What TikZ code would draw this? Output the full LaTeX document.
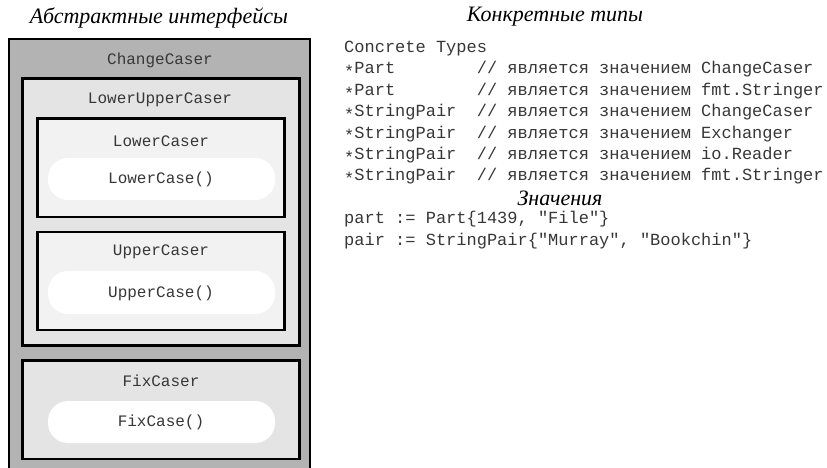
\documentclass[tikz,border=0pt]{standalone}
\usepackage{fontspec}
\setmainfont{Liberation Serif}
\setmonofont{Liberation Mono}
\newcommand{\ptr}{\raisebox{-0.22em}{*}}
\definecolor{outergray}{RGB}{179,179,179}
\definecolor{midgray}{RGB}{228,228,228}
\definecolor{lightgray}{RGB}{242,242,242}
\definecolor{txtgray}{RGB}{55,55,55}
\begin{document}
\begin{tikzpicture}[x=1pt,y=-1pt,
	frame/.style={draw=black,line width=2.5pt},
	pill/.style={fill=white,rounded corners=20pt},
	lbl/.style={font=\fontsize{16}{16}\ttfamily,text=txtgray},
	code/.style={font=\fontsize{17}{17}\ttfamily,text=txtgray,anchor=base west,inner sep=0pt},
	head/.style={font=\fontsize{22}{22}\itshape,text=black}]
				\path[use as bounding box,clip] (0,0) rectangle (827,468);
				% interfaces
				\draw[frame,fill=outergray] (9,39) rectangle (310,490);
				\draw[frame,fill=midgray] (22.5,78.5) rectangle (299.5,345.5);
				\draw[frame,fill=lightgray] (37.5,118.5) rectangle (284.5,217);
				\fill[pill] (48,158) rectangle (275,200);
				\draw[frame,fill=lightgray] (37.5,232) rectangle (284.5,330);
				\fill[pill] (48,271) rectangle (275,314);
				\draw[frame,fill=midgray] (22.5,360.5) rectangle (299.5,459);
				\fill[pill] (48,401) rectangle (275,443);
				\node[head] (abstr) at (159,18) {Абстрактные интерфейсы};
				\node[lbl] (changecaser) at (160,60) {ChangeCaser};
				\node[lbl] (lowerupper) at (160,100) {LowerUpperCaser};
				\node[lbl] (lowercaser) at (161,141) {LowerCaser};
				\node[lbl] (lowercase) at (161,179) {LowerCase()};
				\node[lbl] (uppercaser) at (161,252) {UpperCaser};
				\node[lbl] (uppercase) at (161,293) {UpperCase()};
				\node[lbl] (fixcaser) at (161,381) {FixCaser};
				\node[lbl] (fixcase) at (161,422) {FixCase()};
				% concrete types
				\node[head] (concr) at (555,17) {Конкретные типы};
				\node[code] (ct) at (344,52.5) {Concrete Types};
				\node[code] (t1) at (344,73.9) {\ptr Part~~~~~~~~//~является~значением~ChangeCaser};
				\node[code] (t2) at (344,95.3) {\ptr Part~~~~~~~~//~является~значением~fmt.Stringer};
				\node[code] (t3) at (344,116.7) {\ptr StringPair~~//~является~значением~ChangeCaser};
				\node[code] (t4) at (344,138.1) {\ptr StringPair~~//~является~значением~Exchanger};
				\node[code] (t5) at (344,159.5) {\ptr StringPair~~//~является~значением~io.Reader};
				\node[code] (t6) at (344,180.9) {\ptr StringPair~~//~является~значением~fmt.Stringer};
				% values
				\node[head] (vals) at (560,198) {Значения};
				\node[code] (v1) at (344,223.7) {part~:=~Part\{1439,~"File"\}};
				\node[code] (v2) at (344,245.1) {pair~:=~StringPair\{"Murray",~"Bookchin"\}};
\end{tikzpicture}
\end{document}
